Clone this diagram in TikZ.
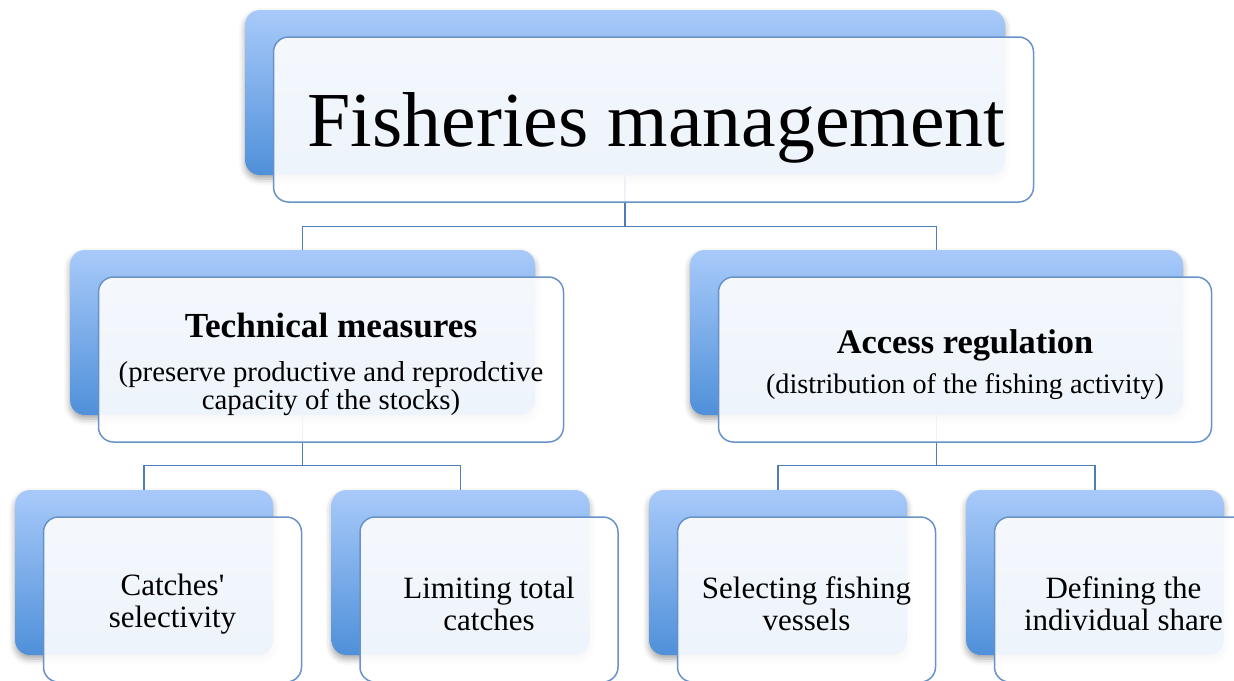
\documentclass[tikz,border=0pt]{standalone}
\usepackage{fontspec}
\setmainfont{Liberation Serif}
\usetikzlibrary{positioning,shadows.blur}
\definecolor{backtop}{RGB}{168,202,250}
\definecolor{backbot}{RGB}{79,144,217}
\definecolor{frameblue}{RGB}{104,146,200}
\definecolor{lineblue}{RGB}{79,125,185}

\begin{document}
\begin{tikzpicture}[x=0.5pt,y=-0.5pt]
\tikzstyle{back}=[rectangle, rounded corners=7.5pt, draw=none,
	top color=backtop, bottom color=backbot, minimum height=82.5pt,
	blur shadow={shadow xshift=0pt, shadow yshift=-2pt,
		shadow blur radius=3pt, shadow opacity=35},
]
\tikzstyle{front}=[rectangle, rounded corners=7.5pt, draw=frameblue,
	line width=0.75pt, fill=white, fill opacity=0.9, text opacity=1,
	minimum height=82.5pt, align=center, inner sep=0pt,
]
\tikzstyle{conn}=[draw=lineblue, line width=0.75pt]
\useasboundingbox (0,0) rectangle (1234,680);
\clip (0,0) rectangle (1234,680);
% back boxes
\node[back, minimum width=380pt] (fm-b) at (625,92.5) {};
\node[back, minimum width=232.5pt] (tm-b) at (302.5,332.5) {};
\node[back, minimum width=246.5pt] (ar-b) at (936.5,332.5) {};
\node[back, minimum width=129pt] (cs-b) at (144,572.5) {};
\node[back, minimum width=129pt] (lc-b) at (460.5,572.5) {};
\node[back, minimum width=129pt] (sv-b) at (778,572.5) {};
\node[back, minimum width=129pt] (is-b) at (1095,572.5) {};
% connectors
\draw[conn] (fm-b.south) -- ++(0,51) -| (tm-b.north);
\draw[conn] (fm-b.south) -- ++(0,51) -| (ar-b.north);
\draw[conn] (tm-b.south) -- ++(0,50) -| (cs-b.north);
\draw[conn] (tm-b.south) -- ++(0,50) -| (lc-b.north);
\draw[conn] (ar-b.south) -- ++(0,50) -| (sv-b.north);
\draw[conn] (ar-b.south) -- ++(0,50) -| (is-b.north);
% front boxes
\node[front, minimum width=380pt, text depth=0pt,
	font=\fontsize{38.9}{40}\selectfont]
	(fm) at ([shift={(28.5,27)}]fm-b) {\hspace*{3pt}Fisheries management};
\node[front, minimum width=232.5pt, font=\fontsize{14.4}{13.8}\selectfont]
	(tm) at ([shift={(28.5,27)}]tm-b)
	{\rule{0pt}{17pt}{\fontsize{17.6}{17}\bfseries\selectfont Technical measures}\\[8pt]
	(preserve productive and reprodctive\\capacity of the stocks)};
\node[front, minimum width=246.5pt, font=\fontsize{14.1}{13.8}\selectfont]
	(ar) at ([shift={(28.5,27)}]ar-b)
	{\rule{0pt}{17pt}{\fontsize{17.2}{17}\bfseries\selectfont Access regulation}\\[6.5pt]
	(distribution of the fishing activity)};
\node[front, minimum width=129pt, font=\fontsize{15.5}{16}\selectfont]
	(cs) at ([shift={(28.5,27)}]cs-b) {\rule{0pt}{15.5pt}Catches\textquotesingle\\selectivity};
\node[front, minimum width=129pt, font=\fontsize{15.5}{16}\selectfont]
	(lc) at ([shift={(28.5,27)}]lc-b) {\rule{0pt}{15.5pt}Limiting total\\catches};
\node[front, minimum width=129pt, font=\fontsize{15.5}{16}\selectfont]
	(sv) at ([shift={(28.5,27)}]sv-b) {\rule{0pt}{15.5pt}Selecting fishing\\vessels};
\node[front, minimum width=129pt, font=\fontsize{15.5}{16}\selectfont]
	(is) at ([shift={(28.5,27)}]is-b) {\rule{0pt}{15.5pt}Defining the\\individual share};
\end{tikzpicture}
\end{document}
